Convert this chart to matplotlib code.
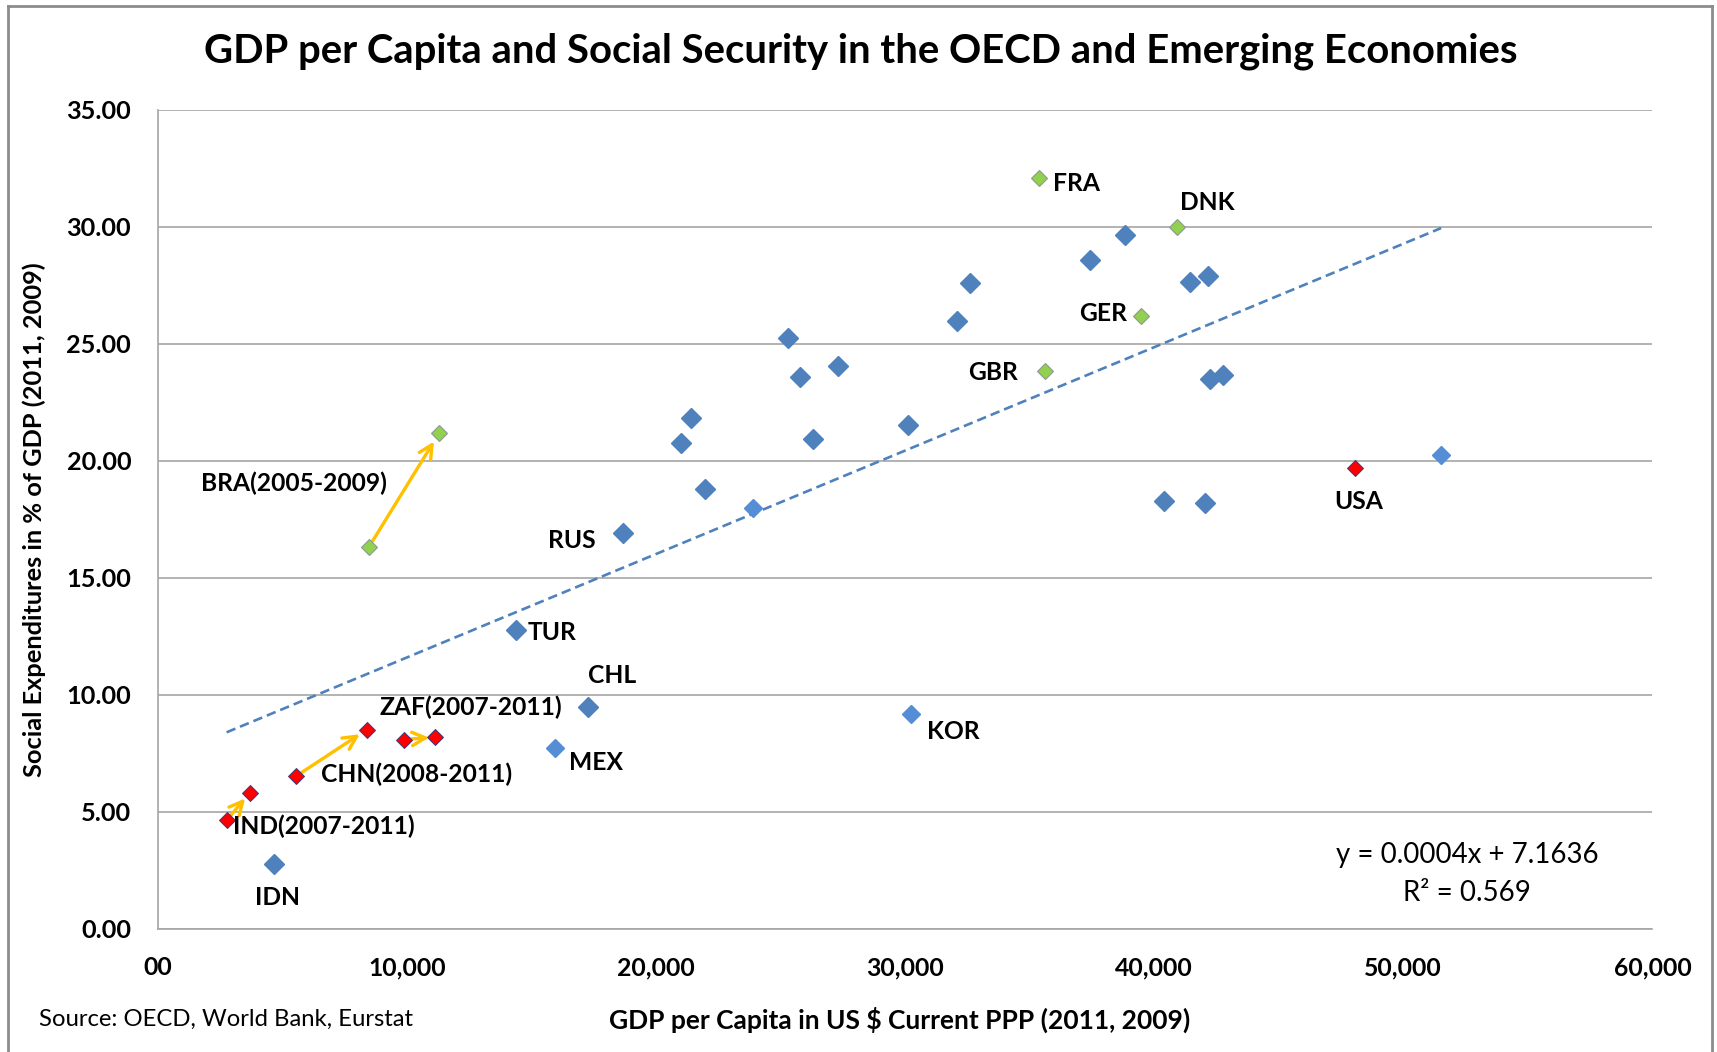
import matplotlib
matplotlib.use("Agg")
import matplotlib.pyplot as plt
from matplotlib.lines import Line2D

plt.rcParams['font.family'] = ['Lato', 'DejaVu Sans']

# ---------------- data ----------------
title = "GDP per Capita and Social Security in the OECD and Emerging Economies"
x_label = "GDP per Capita in US $ Current PPP (2011, 2009)"
y_label = "Social Expenditures in % of GDP (2011, 2009)"
source = "Source: OECD, World Bank, Eurstat"
x_ticks = [0, 10000, 20000, 30000, 40000, 50000, 60000]
x_tick_labels = ["00", "10,000", "20,000", "30,000", "40,000", "50,000", "60,000"]
y_ticks = [0, 5, 10, 15, 20, 25, 30, 35]

# OECD countries (dark blue)
blue_names = ["", "", "", "", "", "", "", "", "", "", "", "", "", "", "", "", "", "",
              "RUS", "TUR", "CHL", "IDN"]
blue_x = [38813, 37407, 32615, 41450, 42154, 32088, 25319, 27297, 25802, 42242, 42769,
          21407, 21011, 30110, 26286, 21978, 40396, 42022,
          18681, 14374, 17275, 4659]
blue_y = [29.63, 28.55, 27.57, 27.62, 27.90, 25.98, 25.23, 24.02, 23.55, 23.50, 23.64,
          21.82, 20.75, 21.50, 20.93, 18.79, 18.27, 18.18,
          16.92, 12.76, 9.49, 2.76]

# OECD countries (light blue)
lblue_names = ["", "", "MEX", "KOR"]
lblue_x = [51516, 23912, 15956, 30242]
lblue_y = [20.23, 17.99, 7.71, 9.16]

# highlighted (green)
green_names = ["FRA", "DNK", "GER", "GBR", "BRA2005", "BRA2009"]
green_x = [35385, 40923, 39473, 35604, 8484, 11297]
green_y = [32.06, 30.00, 26.17, 23.83, 16.31, 21.17]

# emerging / USA (red)
red_names = ["USA", "IND2007", "IND2011", "CHN2008", "CHN2011", "ZAF2007", "ZAF2011"]
red_x = [48044, 2769, 3692, 5538, 8396, 9890, 11121]
red_y = [19.67, 4.63, 5.79, 6.50, 8.50, 8.08, 8.18]

# trend line
trend_slope = 0.000442
trend_intercept = 7.1636
trend_x_range = [2769, 51516]
trend_eq = "y = 0.0004x + 7.1636"
trend_r2 = "R² = 0.569"

# arrows (from, to, shrinkA, shrinkB)
arrows = [("BRA2005", "BRA2009", 5, 7), ("IND2007", "IND2011", 4, 5),
          ("CHN2008", "CHN2011", 5, 6), ("ZAF2007", "ZAF2011", 3, 4)]

# labels: text, anchor point, offset (points), ha
labels = [
    ("FRA", "FRA", (10, -4), "left"),
    ("DNK", "DNK", (2, 17), "left"),
    ("GER", "GER", (-10, 2), "right"),
    ("GBR", "GBR", (-19, -1), "right"),
    ("BRA(2005-2009)", "BRA2005", (12.6, 45.7), "right"),
    ("RUS", "RUS", (-19.7, -5.5), "right"),
    ("TUR", "TUR", (8.7, -1.6), "left"),
    ("CHL", "CHL", (0, 22), "left"),
    ("MEX", "MEX", (10, -10), "left"),
    ("KOR", "KOR", (11.8, -12.6), "left"),
    ("USA", "USA", (3, -23.6), "center"),
    ("IDN", "IDN", (2.4, -24.4), "center"),
    ("ZAF(2007-2011)", "ZAF2007", (-18, 23), "left"),
    ("CHN(2008-2011)", "CHN2008", (18, 1.6), "left"),
    ("IND(2007-2011)", "IND2007", (4.7, -4.7), "left"),
]

# ---------------- figure ----------------
fig = plt.figure(figsize=(17.17, 10.52), dpi=100)
fig.patch.set_facecolor("white")
ax = fig.add_axes([0.0918, 0.1173, 0.9624 - 0.0918, 0.8959 - 0.1173])

grid_c = "#A6A6A6"
ax.set_xlim(0, 60000)
ax.set_ylim(0, 35)
ax.set_yticks(y_ticks)
ax.set_yticklabels([f"{v:.2f}" for v in y_ticks])
ax.set_xticks(x_ticks)
ax.set_xticklabels(x_tick_labels)
ax.tick_params(axis="both", length=0, labelsize=17)
ax.tick_params(axis="y", pad=19)
ax.tick_params(axis="x", pad=20)
for lab in ax.get_xticklabels() + ax.get_yticklabels():
    lab.set_fontweight("bold")
ax.yaxis.grid(True, color=grid_c, lw=1.2)
ax.set_axisbelow(True)
for s in ["top", "right"]:
    ax.spines[s].set_visible(False)
for s in ["left", "bottom"]:
    ax.spines[s].set_color(grid_c)
    ax.spines[s].set_linewidth(1.2)

# trend line
tx = trend_x_range
ty = [trend_slope * v + trend_intercept for v in tx]
ax.plot(tx, ty, color="#4F81BD", lw=1.9, dashes=(3.6, 1.9), zorder=2)

# points
ax.plot(blue_x, blue_y, ls="none", marker="D", ms=10, color="#4F81BD",
        mec="#4F81BD", zorder=4)
ax.plot(lblue_x, lblue_y, ls="none", marker="D", ms=9, color="#558ED5",
        mec="#558ED5", zorder=4)
ax.plot(green_x, green_y, ls="none", marker="D", ms=8, color="#92D050",
        mec="#8C9C8C", mew=0.8, zorder=4)
ax.plot(red_x, red_y, ls="none", marker="D", ms=8, color="#FF0000",
        mec="#3A3A7A", mew=0.7, zorder=4)

pts = {}
for names, xs, ys in [(blue_names, blue_x, blue_y), (lblue_names, lblue_x, lblue_y),
                      (green_names, green_x, green_y), (red_names, red_x, red_y)]:
    for n, xv, yv in zip(names, xs, ys):
        if n:
            pts[n] = (xv, yv)

for a, b, sa, sb in arrows:
    ax.annotate("", xy=pts[b], xytext=pts[a],
                arrowprops=dict(arrowstyle="->", color="#FFC000", lw=2.4,
                                shrinkA=sa, shrinkB=sb, mutation_scale=24),
                zorder=3)

label_artists = []
for text, anchor, off, ha in labels:
    t = ax.annotate(text, xy=pts[anchor], xytext=off, textcoords="offset points",
                    ha=ha, va="center", fontsize=17, fontweight="bold", color="black",
                    zorder=5)
    label_artists.append(t)

# equation
eq1 = fig.text(0.8545, 0.187, trend_eq, ha="center", va="center", fontsize=17)
eq2 = fig.text(0.8545, 0.1516, trend_r2, ha="center", va="center", fontsize=17)

# titles
t_title = fig.text(0.5016, 0.951, title, ha="center", va="center", fontsize=27,
                   fontweight="bold")
t_x = fig.text(0.524, 0.031, x_label, ha="center", va="center", fontsize=16,
               fontweight="bold")
t_y = fig.text(0.0198, 0.5057, y_label, ha="center", va="center", rotation=90,
               fontsize=16, fontweight="bold")
t_src = fig.text(0.023, 0.031, source, ha="left", va="center", fontsize=16)

# ---- fit text sizes to the reference widths (pixels) ----
fig.canvas.draw()
r = fig.canvas.get_renderer()


def fit(artist, target, vertical=False):
    bb = artist.get_window_extent(renderer=r)
    size = bb.height if vertical else bb.width
    f = artist.get_fontsize() * target / size
    artist.set_fontsize(f)
    return f


fit(t_title, 1311)
fit(t_x, 581)
fit(t_y, 515, vertical=True)
fit(t_src, 377)
f_eq = fit(eq1, 262)
eq2.set_fontsize(f_eq)
f_lab = fit(label_artists[4], 187)
for t in label_artists:
    t.set_fontsize(f_lab)
ytl = ax.get_yticklabels()[-1]
f_yt = 17 * 65 / ytl.get_window_extent(renderer=r).width
xtl = ax.get_xticklabels()[1]
f_xt = 17 * 78 / xtl.get_window_extent(renderer=r).width
ax.tick_params(axis="y", labelsize=f_yt)
ax.tick_params(axis="x", labelsize=f_xt)

# chart border
bc = "#8C8C8C"
fl, ft, fr = 8 / 1717, 1 - 6 / 1052, 1712 / 1717
fig.add_artist(Line2D([fl, fl], [0, ft], color=bc, lw=2, transform=fig.transFigure))
fig.add_artist(Line2D([fl, fr], [ft, ft], color=bc, lw=2, transform=fig.transFigure))
fig.add_artist(Line2D([fr, fr], [0, ft], color=bc, lw=2, transform=fig.transFigure))

fig.savefig("out.png", dpi=100, facecolor="white")
